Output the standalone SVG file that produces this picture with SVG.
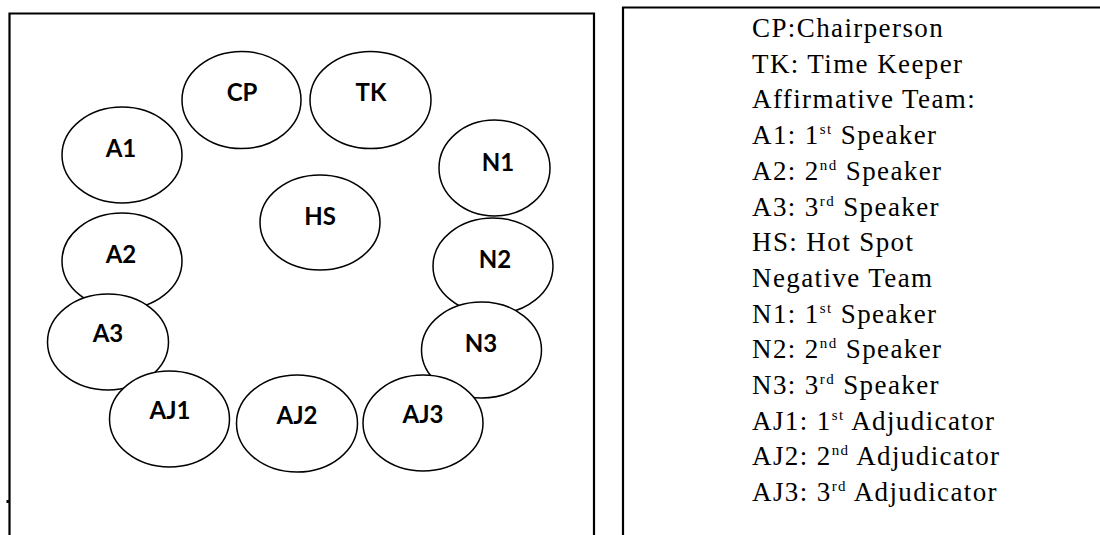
<svg xmlns="http://www.w3.org/2000/svg" width="1100" height="535" viewBox="0 0 1100 535">
<style>
.frame{fill:none;stroke:#000;stroke-width:2.2}
.seat{fill:#fff;stroke:#000;stroke-width:1.5}
.lbl{font-family:Lato,"Open Sans","Liberation Sans",sans-serif;font-weight:bold;font-size:24px;fill:#000;text-anchor:middle}
.key{font-family:"Liberation Serif","Times New Roman",serif;font-size:27px;letter-spacing:1.4px;fill:#000}
.sup{font-size:15px}
</style>
<rect width="1100" height="535" fill="#fff"/>
<g id="left-frame"><path class="frame" d="M9.5,540 V13.5 H594 V540"/><rect x="6.5" y="500" width="2.5" height="3" fill="#000"/></g>
<g id="right-frame"><path class="frame" d="M623,540 V7.5 H1105"/></g>
<g id="connectors"></g>
<g id="CP"><ellipse class="seat" cx="241.5" cy="100" rx="59.5" ry="48.5"/><text class="lbl" x="242" y="101">CP</text></g>
<g id="TK"><ellipse class="seat" cx="370.5" cy="100" rx="60.5" ry="48.5"/><text class="lbl" x="371" y="101">TK</text></g>
<g id="A1"><ellipse class="seat" cx="122" cy="155" rx="60" ry="48"/><text class="lbl" x="121" y="157">A1</text></g>
<g id="N1"><ellipse class="seat" cx="494.5" cy="168" rx="55.5" ry="48"/><text class="lbl" x="498" y="171">N1</text></g>
<g id="HS"><ellipse class="seat" cx="320" cy="222.5" rx="60" ry="47.5"/><text class="lbl" x="320" y="225">HS</text></g>
<g id="A2"><ellipse class="seat" cx="122" cy="261" rx="60" ry="48"/><text class="lbl" x="121" y="263">A2</text></g>
<g id="N2"><ellipse class="seat" cx="493" cy="266" rx="60" ry="48"/><text class="lbl" x="495" y="268">N2</text></g>
<g id="A3"><ellipse class="seat" cx="108" cy="342" rx="60.5" ry="48"/><text class="lbl" x="108" y="342">A3</text></g>
<g id="N3"><ellipse class="seat" cx="481.5" cy="350" rx="60" ry="48"/><text class="lbl" x="481" y="352">N3</text></g>
<g id="AJ1"><ellipse class="seat" cx="169.5" cy="419" rx="60" ry="48"/><text class="lbl" x="170" y="419">AJ1</text></g>
<g id="AJ2"><ellipse class="seat" cx="297" cy="423.5" rx="60.5" ry="48.5"/><text class="lbl" x="297" y="424">AJ2</text></g>
<g id="AJ3"><ellipse class="seat" cx="423" cy="423" rx="60" ry="48"/><text class="lbl" x="423" y="423">AJ3</text></g>
<g id="key">
<text class="key" x="752" y="37">CP:Chairperson</text>
<text class="key" x="752" y="72.7">TK: Time Keeper</text>
<text class="key" x="752" y="108.4">Affirmative Team:</text>
<text class="key" x="752" y="144.1">A1: 1<tspan class="sup" dy="-10">st</tspan><tspan dy="10"> Speaker</tspan></text>
<text class="key" x="752" y="179.8">A2: 2<tspan class="sup" dy="-10">nd</tspan><tspan dy="10"> Speaker</tspan></text>
<text class="key" x="752" y="215.5">A3: 3<tspan class="sup" dy="-10">rd</tspan><tspan dy="10"> Speaker</tspan></text>
<text class="key" x="752" y="251.2">HS: Hot Spot</text>
<text class="key" x="752" y="286.9">Negative Team</text>
<text class="key" x="752" y="322.6">N1: 1<tspan class="sup" dy="-10">st</tspan><tspan dy="10"> Speaker</tspan></text>
<text class="key" x="752" y="358.3">N2: 2<tspan class="sup" dy="-10">nd</tspan><tspan dy="10"> Speaker</tspan></text>
<text class="key" x="752" y="394">N3: 3<tspan class="sup" dy="-10">rd</tspan><tspan dy="10"> Speaker</tspan></text>
<text class="key" x="752" y="429.7">AJ1: 1<tspan class="sup" dy="-10">st</tspan><tspan dy="10"> Adjudicator</tspan></text>
<text class="key" x="752" y="465.4">AJ2: 2<tspan class="sup" dy="-10">nd</tspan><tspan dy="10"> Adjudicator</tspan></text>
<text class="key" x="752" y="501.1">AJ3: 3<tspan class="sup" dy="-10">rd</tspan><tspan dy="10"> Adjudicator</tspan></text>
</g>
</svg>
